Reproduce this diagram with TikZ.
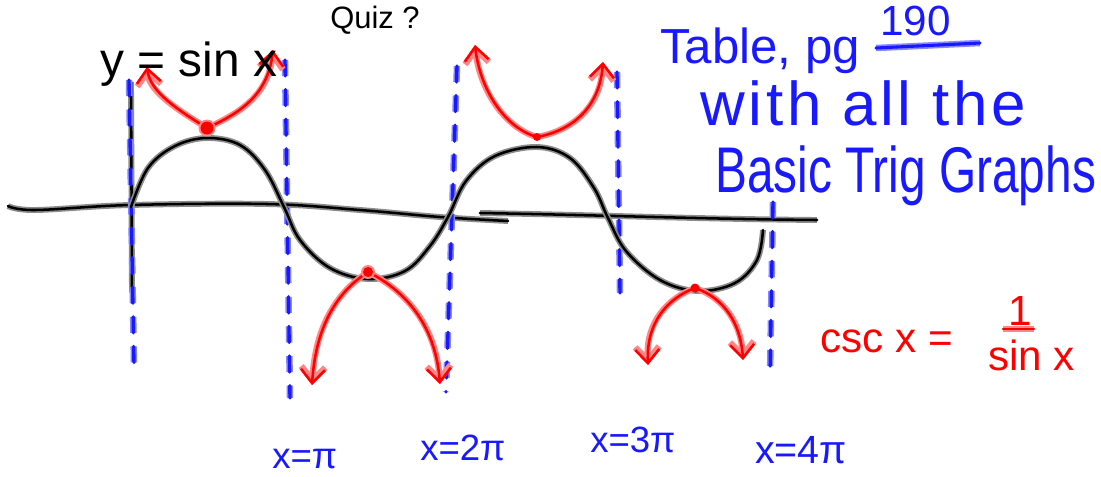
\documentclass[tikz,border=0pt]{standalone}
\usepackage{fontspec}
\setmainfont{Liberation Sans}
\usetikzlibrary{arrows.meta}
\definecolor{inkblue}{RGB}{25,25,255}
\definecolor{haloblue}{RGB}{135,135,255}
\definecolor{inkred}{RGB}{255,0,0}
\definecolor{halored}{RGB}{255,135,135}
\definecolor{haloblack}{RGB}{140,140,140}
\begin{document}
\begin{tikzpicture}[x=0.025cm,y=-0.025cm,
  blackink/.style={draw=black,line width=1.8pt,line cap=round,line join=round,
    preaction={draw=haloblack,line width=4.2pt}},
  redink/.style={draw=inkred,line width=1.8pt,line cap=round,line join=round,
    preaction={draw=halored,line width=4.4pt}},
  blueink/.style={draw=inkblue,line width=2.2pt,line cap=round,
    preaction={draw=haloblue,line width=4.6pt}},
  bluedash/.style={draw=inkblue,line width=2.4pt,line cap=round,dash pattern=on 0.40cm off 0.34cm,
    preaction={draw=haloblue,line width=4.6pt,dash pattern=on 0.40cm off 0.34cm}},
  twoway/.style={{Straight Barb[length=0.34cm,width=0.6cm]}-{Straight Barb[length=0.34cm,width=0.6cm]}},
  txt/.style={inner sep=0pt,anchor=base west},
  bluetxt/.style={txt,text=inkblue},
  redtxt/.style={txt,text=inkred},
]
\useasboundingbox[fill=white] (0,0) rectangle (1101,476);

% title (at top edge)
\node[txt,font=\fontsize{22}{26}\selectfont] (quiz) at (330,28) {Quiz ?};

% axes
\draw[blackink] plot[smooth,tension=0.6] coordinates {(8,206) (35,210) (130,205) (267,204) (360,210) (440,217) (508,221)};
\coordinate (ax2s) at (480,213);
\coordinate (ax2e) at (817,220);
\draw[blackink] (ax2s) .. controls (600,215) and (700,219) .. (ax2e);
\coordinate (yat) at (131,82);
\coordinate (yab) at (132,292);
\draw[blackink] (yat) -- (yab);

% asymptotes
\coordinate (v1t) at (129,80);  \coordinate (v1b) at (134,365);
\coordinate (v2t) at (285,60);  \coordinate (v2b) at (290,398);
\coordinate (v3t) at (457,66);  \coordinate (v3b) at (446,392);
\coordinate (v4t) at (617,72);  \coordinate (v4b) at (620,293);
\coordinate (v5t) at (773,202); \coordinate (v5b) at (770,375);
\draw[bluedash] (v1t) -- (v1b);
\draw[bluedash] (v2t) -- (v2b);
\draw[bluedash] (v3t) -- (v3b);
\draw[bluedash] (v4t) -- (v4b);
\draw[bluedash] (v5t) -- (v5b);

% sine curve
\draw[blackink] plot[smooth,tension=0.6] coordinates {(131,207) (148,168) (175,146) (207,138) (240,145) (265,170) (284,207) (300,240) (330,268) (368,279) (405,271) (430,246) (448,217) (466,181) (495,156) (537,147) (570,158) (594,188) (608,218) (626,251) (660,280) (698,291) (735,283) (757,260) (763,230)};

% cosecant branches
\coordinate (L1) at (147,67);  \coordinate (D1) at (207,128); \coordinate (R1) at (273,50);
\coordinate (L2) at (475,45);  \coordinate (D2) at (537,137); \coordinate (R2) at (603,62);
\coordinate (L3) at (312,385); \coordinate (D3) at (368,272); \coordinate (R3) at (440,384);
\coordinate (L4) at (648,365); \coordinate (D4) at (695,288); \coordinate (R4) at (743,360);
\draw[redink,twoway] (L1) .. controls (150,92) and (178,110) .. (D1) .. controls (240,113) and (268,95) .. (R1);
\draw[redink,twoway] (L2) .. controls (480,90) and (505,128) .. (D2) .. controls (575,130) and (600,105) .. (R2);
\draw[redink,twoway] (L3) .. controls (316,322) and (340,290) .. (D3) .. controls (410,293) and (436,330) .. (R3);
\draw[redink,twoway] (L4) .. controls (646,322) and (668,298) .. (D4) .. controls (725,298) and (741,325) .. (R4);
\fill[halored] (D1) circle (8.5);
\fill[inkred] (D1) circle (6.5);
\fill[halored] (D3) circle (7);
\fill[inkred] (D3) circle (5);
\fill[inkred] (D2) circle (4);
\fill[inkred] (D4) circle (4.5);

% labels
\node[txt,font=\fontsize{34}{40}\selectfont] (ysin) at (100,76) {y = sin x};
\node[bluetxt,font=\fontsize{35}{40}\selectfont] (table) at (660,63) {Table, pg};
\node[bluetxt,font=\fontsize{30}{36}\selectfont] (pg) at (880,35) {190};
\coordinate (ul1) at (876,48); \coordinate (ul2) at (980,43);
\draw[blueink] (ul1) -- (ul2);
\node[bluetxt,font=\fontsize{44}{50}\selectfont\addfontfeature{LetterSpace=6}] (with) at (700,125) {with all the};
\node[bluetxt,font=\fontsize{34}{40}\selectfont] (basic) at (715,192) {\scalebox{1}[1.35]{Basic Trig Graphs}};

\node[redtxt,font=\fontsize{30}{36}\selectfont] (csc) at (820,352) {csc x =};
\node[redtxt,font=\fontsize{30}{36}\selectfont] (one) at (1008,325) {1};
\coordinate (fb1) at (1003,329); \coordinate (fb2) at (1034,329);
\draw[redink] (fb1) -- (fb2);
\node[redtxt,font=\fontsize{30}{36}\selectfont] (sinx) at (988,370) {sin x};

\node[bluetxt,font=\fontsize{26}{30}\selectfont] (xpi) at (272,468) {x=π};
\node[bluetxt,font=\fontsize{26}{30}\selectfont] (x2pi) at (420,460) {x=2π};
\node[bluetxt,font=\fontsize{26}{30}\selectfont] (x3pi) at (590,452) {x=3π};
\node[bluetxt,font=\fontsize{28}{32}\selectfont] (x4pi) at (755,463) {x=4π};
\end{tikzpicture}
\end{document}
